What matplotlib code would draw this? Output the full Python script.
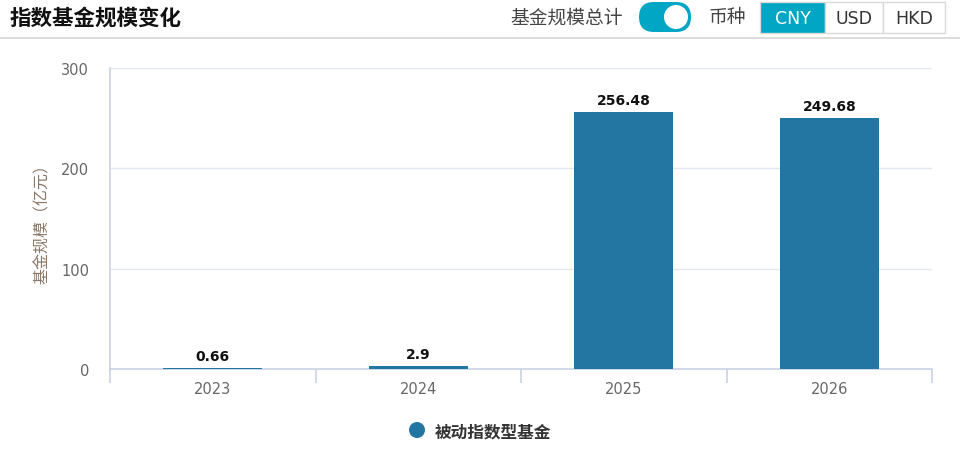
import matplotlib.pyplot as plt
from matplotlib.patches import FancyBboxPatch, Rectangle, Circle

plt.rcParams['font.family'] = ['DejaVu Sans', 'Noto Sans CJK SC']

years = ['2023', '2024', '2025', '2026']
sizes = [0.66, 2.9, 256.48, 249.68]
series_name = '被动指数型基金'
title = '指数基金规模变化'
ylabel = '基金规模（亿元）'
total_label = '基金规模总计'
currency_label = '币种'
currencies = ['CNY', 'USD', 'HKD']

W, H = 960, 452
bar_color = '#2376a2'
teal = '#00a6c4'
grid_color = '#e3e7ee'
axis_color = '#c9d3e6'
cjk = ['Noto Sans CJK SC', 'DejaVu Sans']

fig = plt.figure(figsize=(W / 100, H / 100), dpi=100)

# chart
ax = fig.add_axes([110 / W, 1 - 370 / H, (932 - 110) / W, (370 - 69) / H])
x = range(len(years))
ax.bar(x, sizes, width=0.48, color=bar_color, zorder=3)
for xi, v in zip(x, sizes):
    ax.text(xi, v + 5, f'{v:g}', ha='center', va='bottom', fontsize=10,
            fontweight='bold', color='#111111')

ax.set_xlim(-0.5, len(years) - 0.5)
ax.set_ylim(0, 300)
ax.set_yticks([0, 100, 200, 300])
ax.set_xticks(list(x))
ax.set_xticklabels(years)
ax.set_xticks([i + 0.5 for i in range(-1, len(years))], minor=True)
ax.tick_params(axis='x', which='major', length=0, pad=9, labelsize=10.5, labelcolor='#666666')
ax.tick_params(axis='x', which='minor', length=10, color=axis_color, width=1.2)
ax.tick_params(axis='y', length=0, pad=15, labelsize=10.5, labelcolor='#666666')
ax.grid(axis='y', color=grid_color, lw=1, zorder=0)
for s in ['top', 'right']:
    ax.spines[s].set_visible(False)
for s in ['left', 'bottom']:
    ax.spines[s].set_color(axis_color)
    ax.spines[s].set_linewidth(1.2)
ax.set_ylabel(ylabel, fontsize=11.5, color='#8b7766', labelpad=7, family=cjk)

# overlay in pixel coordinates for header and legend
hdr = fig.add_axes([0, 0, 1, 1], facecolor='none')
hdr.set_zorder(10)
hdr.set_xlim(0, W)
hdr.set_ylim(H, 0)
hdr.axis('off')

hdr.text(10, 18, title, fontsize=15.5, fontweight='bold', color='#111111', va='center', family=cjk)
hdr.plot([0, W], [39, 39], color='#d6d6d6', lw=1.2)
hdr.text(623, 18, total_label, fontsize=13.5, color='#444444', va='center', ha='right', family=cjk)
hdr.add_patch(FancyBboxPatch((639, 3), 52, 30, boxstyle='round,pad=0,rounding_size=15',
                             fc=teal, ec='none'))
hdr.add_patch(Circle((676, 18), 12, fc='white', ec='none', zorder=5))
hdr.text(727, 18, currency_label, fontsize=13.5, color='#444444', va='center', ha='center', family=cjk)

btn_x = [760, 825, 883, 945]
for i, cur in enumerate(currencies):
    x0, x1 = btn_x[i], btn_x[i + 1]
    active = i == 0
    hdr.add_patch(Rectangle((x0, 3), x1 - x0, 31,
                            fc=teal if active else 'white', ec='#d9d9d9', lw=1, zorder=3))
    hdr.text((x0 + x1) / 2, 19, cur, fontsize=12.5, ha='center', va='center',
             color='white' if active else '#333333', zorder=4)

# legend
hdr.add_patch(Circle((417, 431), 8, fc=bar_color, ec='none'))
hdr.text(435, 432, series_name, fontsize=12, fontweight='bold', color='#333333',
         va='center', family=cjk)

fig.savefig('out.png', dpi=100)
